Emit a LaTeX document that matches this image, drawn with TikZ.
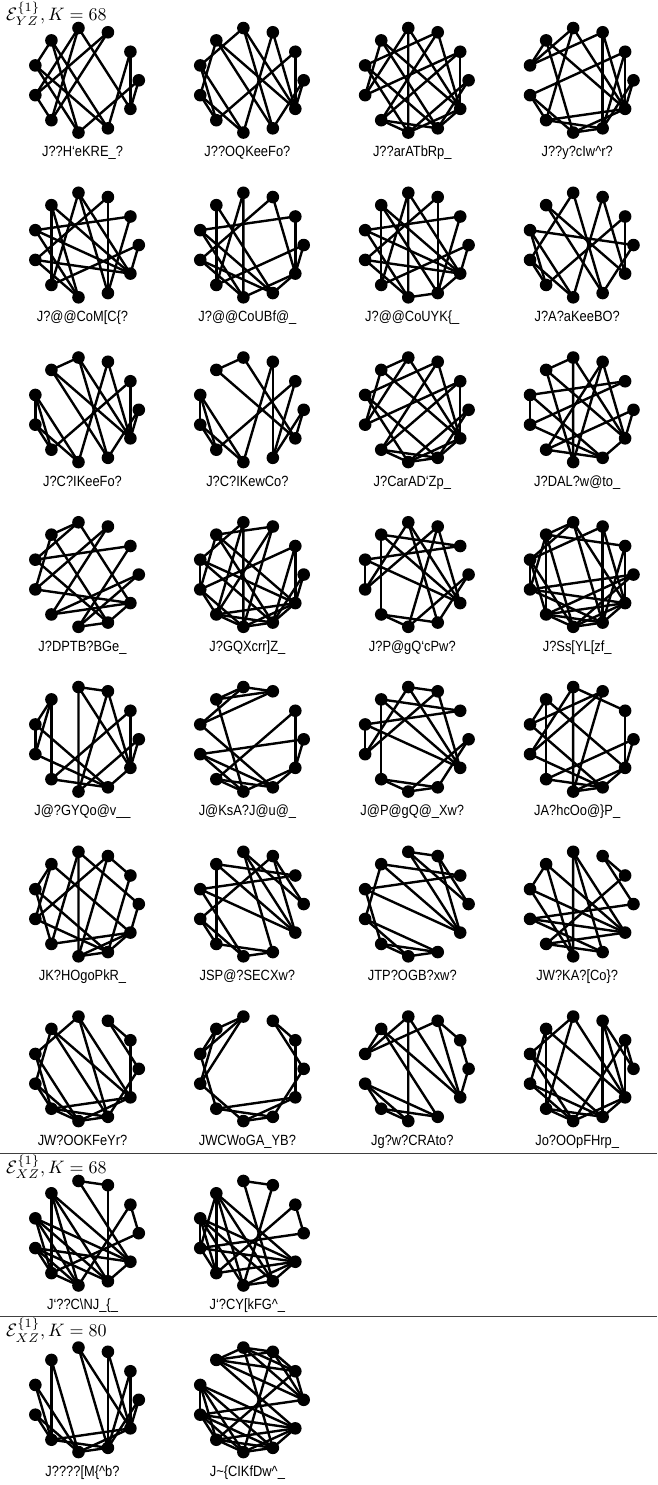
\documentclass[tikz,border=0pt]{standalone}
\usepackage{fontspec}
\usepackage{graphicx}
\newfontfamily\lblfont[Ligatures=TeX,FakeStretch=0.87]{Liberation Sans}
\makeatletter
\newcount\gsI \newcount\gsJ \newcount\gsV \newcount\gsBit
\def\gsR{52.8}
\def\gsix#1#2#3{\def\gs@name{#1}\def\gs@x{#2}\def\gs@y{#3}%
  \begingroup
  \catcode`\\=12 \catcode`\{=12 \catcode`\}=12 \catcode`\^=12
  \catcode`\_=12 \catcode`\~=12 \catcode`\%=12 \catcode`\#=12
  \catcode`\$=12 \catcode`\&=12
  \gs@read}
\def\gs@read#1|{\endgroup\gs@draw{#1}}
\def\gs@draw#1{%
  \def\gs@label{#1}%
  \foreach \k in {0,...,10}{%
    \coordinate (\gs@name-\k) at ({\gs@x+\gsR*cos(360*\k/11)},{\gs@y-\gsR*sin(360*\k/11)});}%
  \global\gsI=0 \global\gsJ=1
  \gs@skip#1\gs@end
  \foreach \k in {0,...,10}{\node[vtx] (\gs@name-v\k) at (\gs@name-\k) {};}%
  \node[glabel] (\gs@name-lab) at ({\gs@x-3.5},{\gs@y+76.5}) {\gs@label};%
}
\def\gs@skip#1{\gs@loop}
\def\gs@end{\gs@end}
\def\gs@loop#1{\ifx#1\gs@end\else\gs@char#1\expandafter\gs@loop\fi}
\def\gs@char#1{\gsV=\numexpr`#1-63\relax
  \gs@bit{32}\gs@bit{16}\gs@bit{8}\gs@bit{4}\gs@bit{2}\gs@bit{1}}
\def\gs@bit#1{%
  \ifnum\gsJ<11
    \gsBit=\gsV \divide\gsBit by #1\relax
    \ifodd\gsBit
      \edef\gs@tmp{\noexpand\draw[gedge] (\gs@name-\the\gsI) -- (\gs@name-\the\gsJ);}\gs@tmp
    \fi
    \global\advance\gsI by 1
    \ifnum\gsI=\gsJ \global\gsI=0 \global\advance\gsJ by 1 \fi
  \fi}
\makeatother
\tikzset{
  vtx/.style={circle,fill=black,inner sep=0pt,minimum size=12.6pt},
  gedge/.style={line width=2.4pt,black},
  glabel/.style={font=\lblfont\fontsize{14.8}{16}\selectfont,anchor=base,inner sep=0pt},
  hdr/.style={anchor=base west,inner sep=0pt},
  sepline/.style={line width=1pt,black!75}
}
\begin{document}
\begin{tikzpicture}[x=1pt,y=-1pt]
\useasboundingbox (0,0) rectangle (657,1485);
\node[hdr] (h1) at (6,20.7) {\scalebox{1.8}{$\mathcal{E}^{\{1\}}_{YZ}, K = 68$}};
\gsix{a1}{86}{80.3}J??H`eKRE_?|
\gsix{a2}{250.9}{80.3}J??OQKeeFo?|
\gsix{a3}{415.8}{80.3}J??arATbRp_|
\gsix{a4}{580.7}{80.3}J??y?cIw^r?|
\gsix{b1}{86}{245.05}J?@@CoM[C{?|
\gsix{b2}{250.9}{245.05}J?@@CoUBf@_|
\gsix{b3}{415.8}{245.05}J?@@CoUYK{_|
\gsix{b4}{580.7}{245.05}J?A?aKeeBO?|
\gsix{c1}{86}{409.8}J?C?IKeeFo?|
\gsix{c2}{250.9}{409.8}J?C?IKewCo?|
\gsix{c3}{415.8}{409.8}J?CarAD`Zp_|
\gsix{c4}{580.7}{409.8}J?DAL?w@to_|
\gsix{d1}{86}{574.55}J?DPTB?BGe_|
\gsix{d2}{250.9}{574.55}J?GQXcrr]Z_|
\gsix{d3}{415.8}{574.55}J?P@gQ`cPw?|
\gsix{d4}{580.7}{574.55}J?Ss[YL[zf_|
\gsix{e1}{86}{739.3}J@?GYQo@v__|
\gsix{e2}{250.9}{739.3}J@KsA?J@u@_|
\gsix{e3}{415.8}{739.3}J@P@gQ@_Xw?|
\gsix{e4}{580.7}{739.3}JA?hcOo@}P_|
\gsix{f1}{86}{904.05}JK?HOgoPkR_|
\gsix{f2}{250.9}{904.05}JSP@?SECXw?|
\gsix{f3}{415.8}{904.05}JTP?OGB?xw?|
\gsix{f4}{580.7}{904.05}JW?KA?[Co}?|
\gsix{g1}{86}{1068.8}JW?OOKFeYr?|
\gsix{g2}{250.9}{1068.8}JWCWoGA_YB?|
\gsix{g3}{415.8}{1068.8}Jg?w?CRAto?|
\gsix{g4}{580.7}{1068.8}Jo?OOpFHrp_|
\coordinate (s1l) at (0,1153.3);
\coordinate (s1r) at (657,1153.3);
\draw[sepline] (s1l) -- (s1r);
\node[hdr] (h2) at (6,1173.5) {\scalebox{1.8}{$\mathcal{E}^{\{1\}}_{XZ}, K = 68$}};
\gsix{p1}{86}{1233.2}J`??C\NJ_{_|
\gsix{p2}{250.9}{1233.2}J`?CY[kFG^_|
\coordinate (s2l) at (0,1316);
\coordinate (s2r) at (657,1316);
\draw[sepline] (s2l) -- (s2r);
\node[hdr] (h3) at (6,1336.7) {\scalebox{1.8}{$\mathcal{E}^{\{1\}}_{XZ}, K = 80$}};
\gsix{q1}{86}{1399.8}J????[M{^b?|
\gsix{q2}{250.9}{1399.8}J~{CIKfDw^_|
\end{tikzpicture}
\end{document}
